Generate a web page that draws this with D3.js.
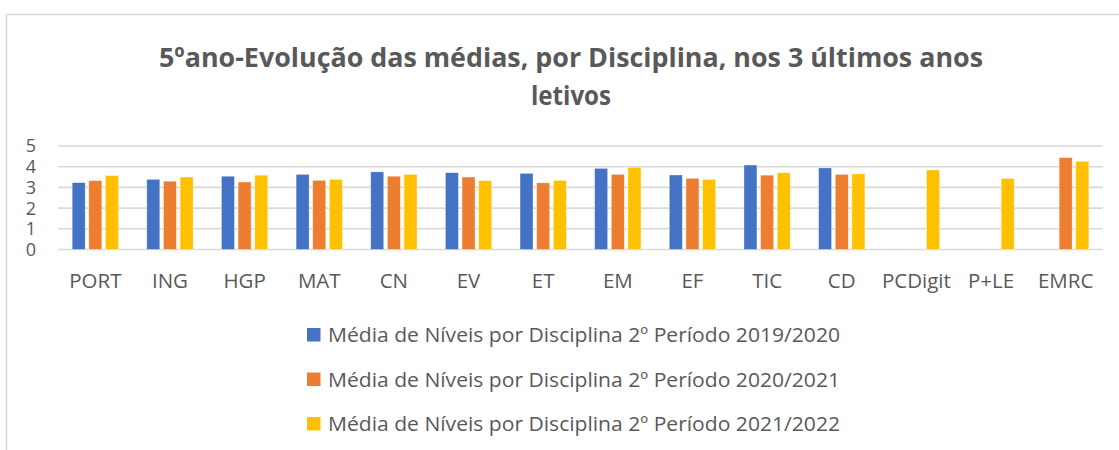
<html>
    <head>
        <meta charset="utf-8">
        <title>5ºano - Evolução das médias</title>
        <script src="https://cdnjs.cloudflare.com/ajax/libs/d3/7.8.5/d3.min.js"></script>
        <style>
            body { margin: 0; background: #fff; }
            text { font-family: "Open Sans", "Noto Sans", sans-serif; fill: #595959; }
        </style>
    </head>
    <body>
        <div id="chart"></div>
        <script>
            // values
            var categories = ['PORT', 'ING', 'HGP', 'MAT', 'CN', 'EV', 'ET', 'EM', 'EF', 'TIC', 'CD', 'PCDigit', 'P+LE', 'EMRC'];
            var seriesNames = [
                'Média de Níveis por Disciplina 2º Período 2019/2020',
                'Média de Níveis por Disciplina 2º Período 2020/2021',
                'Média de Níveis por Disciplina 2º Período 2021/2022'
            ];
            var values2019 = [3.23, 3.39, 3.54, 3.63, 3.75, 3.71, 3.68, 3.92, 3.60, 4.08, 3.94, null, null, null];
            var values2020 = [3.33, 3.30, 3.26, 3.34, 3.54, 3.50, 3.22, 3.63, 3.44, 3.59, 3.63, null, null, 4.44];
            var values2021 = [3.57, 3.50, 3.59, 3.39, 3.63, 3.33, 3.34, 3.97, 3.39, 3.71, 3.65, 3.84, 3.43, 4.26];
            var yTicks = [0, 1, 2, 3, 4, 5];
            var colors = ['#4472C4', '#ED7D31', '#FFC000'];

            var width = 1119, height = 450;
            var allValues = [values2019, values2020, values2021];

            var svg = d3.select('#chart').append('svg')
                .attr('width', width)
                .attr('height', height);

            // chart frame
            svg.append('rect')
                .attr('x', 6.5)
                .attr('y', 14.5)
                .attr('width', width + 10)
                .attr('height', height + 10)
                .attr('fill', 'none')
                .attr('stroke', '#d9d9d9')
                .attr('stroke-width', 1.5);

            // title
            var title = svg.append('text')
                .attr('text-anchor', 'middle')
                .attr('font-weight', 'bold')
                .style('font-size', '27px');
            title.append('tspan')
                .attr('x', 571)
                .attr('y', 67)
                .attr('textLength', 824)
                .attr('lengthAdjust', 'spacingAndGlyphs')
                .text('5ºano-Evolução das médias, por Disciplina, nos 3 últimos anos');
            title.append('tspan')
                .attr('x', 571)
                .attr('y', 105)
                .attr('textLength', 80)
                .attr('lengthAdjust', 'spacingAndGlyphs')
                .text('letivos');

            var x = d3.scaleBand()
                .domain(categories)
                .range([58, 1103]);

            var groupW = 46.3;
            var x1 = d3.scaleBand()
                .domain(d3.range(3))
                .range([(x.bandwidth() - groupW) / 2, (x.bandwidth() + groupW) / 2])
                .paddingInner(0.22);

            var y = d3.scaleLinear()
                .domain([0, 5])
                .range([249.5, 146]);

            // gridlines
            svg.append('g')
                .selectAll('line')
                .data(yTicks)
                .enter()
                    .append('line')
                    .attr('x1', 58)
                    .attr('x2', 1103)
                    .attr('y1', function(d) { return y(d); })
                    .attr('y2', function(d) { return y(d); })
                    .attr('stroke', '#d9d9d9')
                    .attr('stroke-width', 1.6);

            // y labels
            svg.append('g')
                .selectAll('text')
                .data(yTicks)
                .enter()
                    .append('text')
                    .attr('x', 36)
                    .attr('y', function(d) { return y(d); })
                    .attr('dy', '0.36em')
                    .attr('text-anchor', 'end')
                    .style('font-size', '18px')
                    .text(function(d) { return d; });

            // bars
            var rows = [];
            categories.forEach(function(c, i) {
                allValues.forEach(function(vals, s) {
                    if (vals[i] !== null) rows.push({ cat: c, s: s, v: vals[i] });
                });
            });

            svg.append('g')
                .selectAll('rect')
                .data(rows)
                .enter()
                    .append('rect')
                    .attr('x', function(d) { return x(d.cat) + x1(d.s); })
                    .attr('y', function(d) { return y(d.v); })
                    .attr('width', x1.bandwidth())
                    .attr('height', function(d) { return y(0) - y(d.v); })
                    .attr('fill', function(d) { return colors[d.s]; })
                    .attr('stroke', '#fff')
                    .attr('stroke-opacity', 0.5)
                    .attr('stroke-width', 0.7);

            // category labels
            svg.append('g')
                .selectAll('text')
                .data(categories)
                .enter()
                    .append('text')
                    .attr('x', function(d) { return x(d) + x.bandwidth() / 2; })
                    .attr('y', 288)
                    .attr('text-anchor', 'middle')
                    .style('font-size', '20.5px')
                    .text(function(d) { return d; });

            // legend
            var legend = svg.append('g')
                .selectAll('g')
                .data(seriesNames)
                .enter()
                    .append('g')
                    .attr('transform', function(d, i) {
                        return 'translate(307,' + (335 + i * 44.5) + ')';
                    });

            legend.append('rect')
                .attr('x', 0)
                .attr('y', -7)
                .attr('width', 13.5)
                .attr('height', 13.5)
                .attr('fill', function(d, i) { return colors[i]; });

            legend.append('text')
                .attr('x', 21)
                .attr('y', 7)
                .attr('textLength', 512)
                .attr('lengthAdjust', 'spacingAndGlyphs')
                .style('font-size', '19.5px')
                .text(function(d) { return d; });
        </script>
    </body>
</html>
